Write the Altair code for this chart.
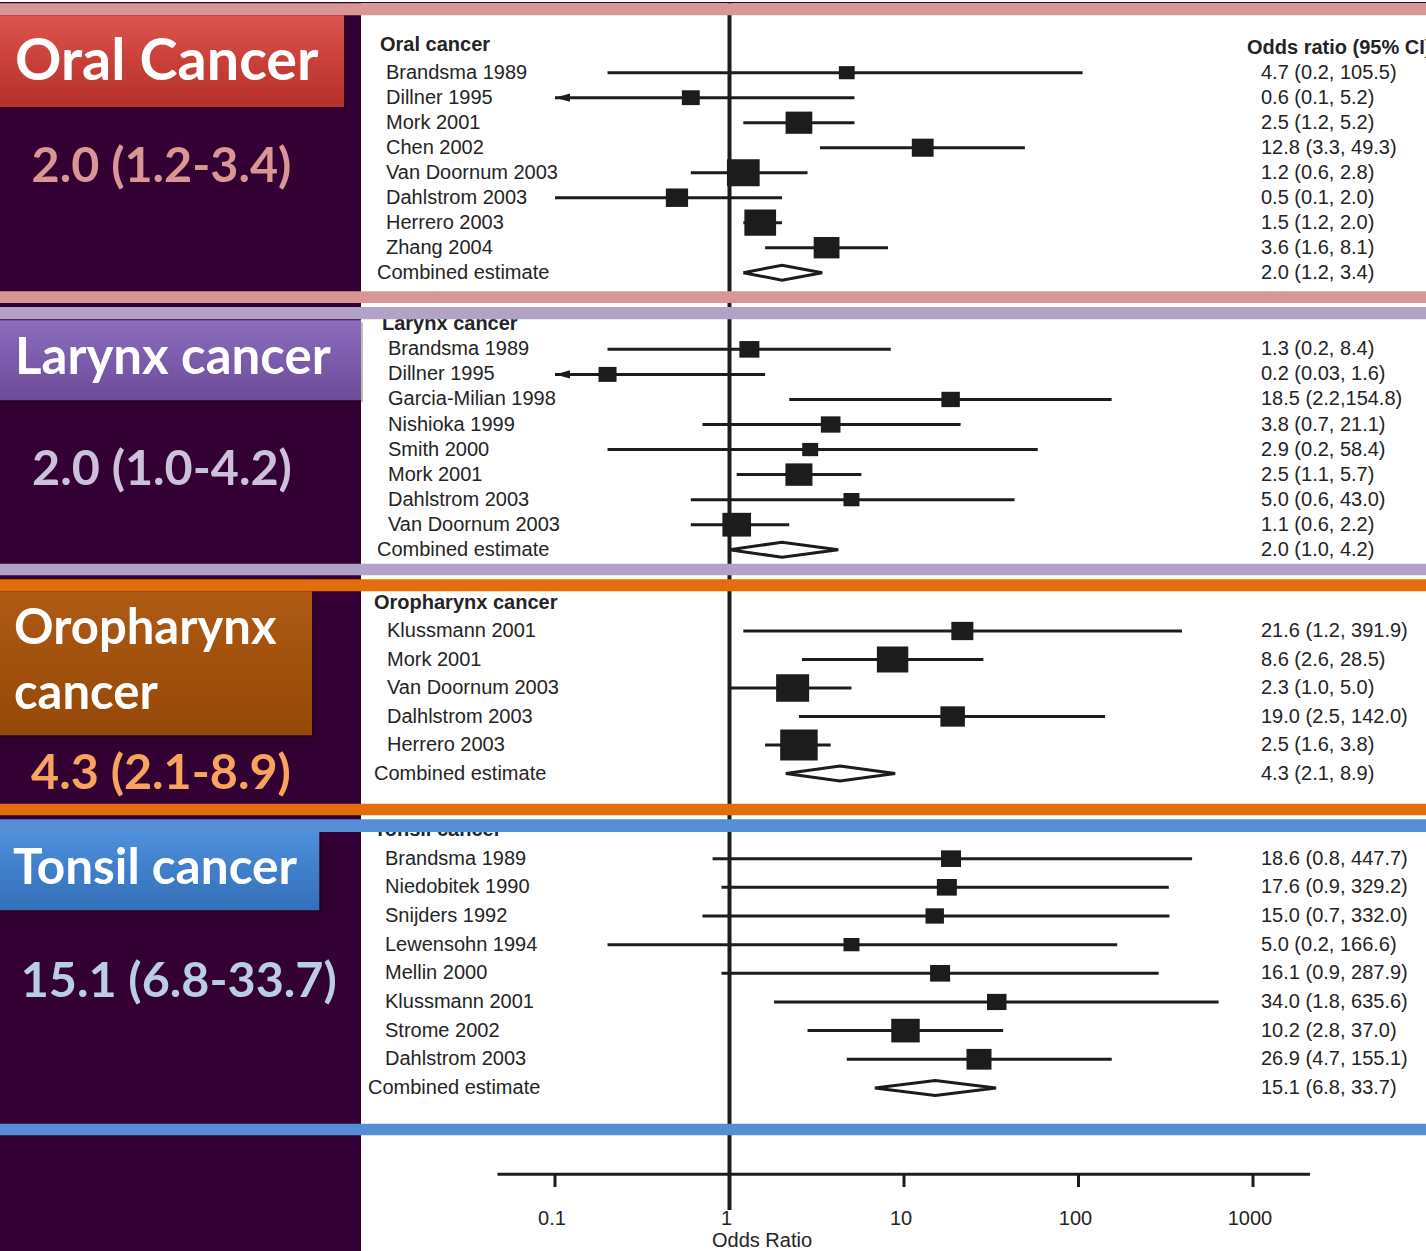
import re
import altair as alt
import pandas as pd

# ---------------------------------------------------------------- data
oral_studies = ["Brandsma 1989", "Dillner 1995", "Mork 2001", "Chen 2002",
                "Van Doornum 2003", "Dahlstrom 2003", "Herrero 2003", "Zhang 2004"]
oral_ci = ["4.7 (0.2, 105.5)", "0.6 (0.1, 5.2)", "2.5 (1.2, 5.2)", "12.8 (3.3, 49.3)",
           "1.2 (0.6, 2.8)", "0.5 (0.1, 2.0)", "1.5 (1.2, 2.0)", "3.6 (1.6, 8.1)"]
oral_weight = [5.0, 6.4, 14.3, 9.5, 21.4, 9.9, 20.1, 13.3]
oral_combined = "2.0 (1.2, 3.4)"
oral_arrows = ["Dillner 1995"]

larynx_studies = ["Brandsma 1989", "Dillner 1995", "Garcia-Milian 1998", "Nishioka 1999",
                  "Smith 2000", "Mork 2001", "Dahlstrom 2003", "Van Doornum 2003"]
larynx_ci = ["1.3 (0.2, 8.4)", "0.2 (0.03, 1.6)", "18.5 (2.2,154.8)", "3.8 (0.7, 21.1)",
             "2.9 (0.2, 58.4)", "2.5 (1.1, 5.7)", "5.0 (0.6, 43.0)", "1.1 (0.6, 2.2)"]
larynx_weight = [8.0, 6.5, 6.8, 7.7, 5.1, 14.6, 5.1, 16.4]
larynx_combined = "2.0 (1.0, 4.2)"
larynx_arrows = ["Dillner 1995"]

oro_studies = ["Klussmann 2001", "Mork 2001", "Van Doornum 2003", "Dalhlstrom 2003",
               "Herrero 2003"]
oro_ci = ["21.6 (1.2, 391.9)", "8.6 (2.6, 28.5)", "2.3 (1.0, 5.0)", "19.0 (2.5, 142.0)",
          "2.5 (1.6, 3.8)"]
oro_weight = [9.7, 19.7, 21.8, 12.0, 28.1]
oro_combined = "4.3 (2.1, 8.9)"
oro_arrows = []

tonsil_studies = ["Brandsma 1989", "Niedobitek 1990", "Snijders 1992", "Lewensohn 1994",
                  "Mellin 2000", "Klussmann 2001", "Strome 2002", "Dahlstrom 2003"]
tonsil_ci = ["18.6 (0.8, 447.7)", "17.6 (0.9, 329.2)", "15.0 (0.7, 332.0)",
             "5.0 (0.2, 166.6)", "16.1 (0.9, 287.9)", "34.0 (1.8, 635.6)",
             "10.2 (2.8, 37.0)", "26.9 (4.7, 155.1)"]
tonsil_weight = [8.0, 8.0, 6.8, 5.1, 8.0, 7.6, 16.2, 12.5]
tonsil_combined = "15.1 (6.8, 33.7)"
tonsil_arrows = []

section_headers = ["Oral cancer", "Larynx cancer", "Oropharynx cancer", "Tonsil cancer"]
box_titles = [["Oral Cancer"], ["Larynx cancer"], ["Oropharynx", "cancer"], ["Tonsil cancer"]]
tick_values = [0.1, 1, 10, 100, 1000]
tick_labels = ["0.1", "1", "10", "100", "1000"]
combined_label = "Combined estimate"
or_header = "Odds ratio (95% CI)"
axis_title = "Odds Ratio"

# ---------------------------------------------------------------- styling
W = 1426
INK = "#1c1c1c"
TXT = "#242424"
DARK = "#330033"
PINK, LAV, ORG, BLUE = "#d99694", "#b3a2c7", "#e46c0a", "#558ed5"
FONT = "Liberation Sans"
LFONT = "Lato"
AXIS_MIN = 0.1            # CIs running past this end in an arrow
DIAMOND_HALF = 7.5        # px
PX_ONE, PX_DECADE = 729.5, 174.5
XS = alt.Scale(type="log", nice=False,
               domain=[10 ** (-PX_ONE / PX_DECADE), 10 ** ((W - PX_ONE) / PX_DECADE)])
BOX = "M-1,-0.83L1,-0.83L1,0.83L-1,0.83Z"
ARROW = "M-1,0L1,-0.55L1,0.55Z"
ONE = pd.DataFrame({"k": [0]})


def nums(s):
    return re.findall(r"\d+\.?\d*", s)


def rect(x1, x2, y1, y2, fill, **kw):
    return alt.Chart(ONE).mark_rect(fill=fill, **kw).encode(
        x=alt.value(x1), x2=alt.value(x2), y=alt.value(y1), y2=alt.value(y2))


def gradient(colors):
    n = len(colors) - 1
    return alt.Gradient(gradient="linear", x1=0, x2=0, y1=0, y2=1,
                        stops=[alt.GradientStop(color=c, offset=i / n)
                               for i, c in enumerate(colors)])


def ref_line(y1, y2):
    return alt.Chart(pd.DataFrame({"or": [1.0]})).mark_rule(
        strokeWidth=4, color=INK).encode(
        x=alt.X("or:Q", scale=XS, axis=None), y=alt.value(y1), y2=alt.value(y2))


def panel(p):
    H, y0, step = p["height"], p["y0"], p["step"]
    ys = alt.Scale(domain=[-y0 / step, (H - y0) / step], reverse=True, nice=False, zero=False)
    n = len(p["studies"])
    vals = [[float(v) for v in nums(s)] for s in p["ci"]]
    df = pd.DataFrame({
        "study": p["studies"], "row": list(range(1, n + 1)),
        "or": [v[0] for v in vals], "lo": [v[1] for v in vals], "hi": [v[2] for v in vals],
        "w": p["weight"], "ci": p["ci"]})
    df["lo_draw"] = df["lo"].clip(lower=AXIS_MIN)
    arrows = df[df["study"].isin(p["arrows"])]

    crow = n + 1
    c = [float(v) for v in nums(p["combined"])]
    h = DIAMOND_HALF / step
    dia = pd.DataFrame({"x": [c[1], c[0], c[2], c[0], c[1]],
                        "y": [crow, crow - h, crow, crow + h, crow], "k": list(range(5))})

    X = lambda f: alt.X(f, scale=XS, axis=None)
    Y = lambda f: alt.Y(f, scale=ys, axis=None)
    txt = dict(font=FONT, fontSize=20, color=TXT, baseline="middle", align="left")

    layers = [rect(0, 361, 0, H, DARK), ref_line(0, H)]
    layers.append(alt.Chart(df).mark_rule(strokeWidth=3, color=INK).encode(
        x=X("lo_draw:Q"), x2="hi:Q", y=Y("row:Q")))
    layers.append(alt.Chart(df).mark_point(shape=BOX, filled=True, opacity=1, color=INK).encode(
        x=X("or:Q"), y=Y("row:Q"),
        size=alt.Size("w:Q", scale=alt.Scale(domain=[0, 30], range=[0, 1500]), legend=None)))
    if len(arrows):
        layers.append(alt.Chart(arrows).mark_point(
            shape=ARROW, filled=True, opacity=1, color=INK, size=225, xOffset=7.5).encode(
            x=X("lo_draw:Q"), y=Y("row:Q")))
    layers.append(alt.Chart(dia).mark_line(strokeWidth=3, color=INK, strokeJoin="miter").encode(
        x=X("x:Q"), y=Y("y:Q"), order="k:Q"))

    # text columns
    layers.append(alt.Chart(df).mark_text(**txt).encode(
        x=alt.value(p["label_x"]), y=Y("row:Q"), text="study:N"))
    comb = pd.DataFrame({"row": [crow], "t": [combined_label], "ci": [p["combined"]]})
    layers.append(alt.Chart(comb).mark_text(**txt).encode(
        x=alt.value(p["comb_x"]), y=Y("row:Q"), text="t:N"))
    layers.append(alt.Chart(pd.concat([df[["row", "ci"]], comb[["row", "ci"]]])).mark_text(
        **txt).encode(x=alt.value(1261), y=Y("row:Q"), text="ci:N"))
    hd = pd.DataFrame({"row": [0], "t": [p["header"]]})
    layers.append(alt.Chart(hd).mark_text(fontWeight="bold", dy=p.get("header_dy", 0), **txt).encode(
        x=alt.value(p["header_x"]), y=Y("row:Q"), text="t:N"))
    if p.get("or_header"):
        oh = pd.DataFrame({"row": [0], "t": [or_header]})
        layers.append(alt.Chart(oh).mark_text(fontWeight="bold", clip=True, **txt).encode(
            x=alt.value(1247), y=Y("row:Q"), text="t:N"))

    # coloured separators
    for (b1, b2, col) in p["bands"]:
        layers.append(rect(0, W, b1, b2, col))

    # side label box
    bx = p["box"]
    layers.append(rect(0, bx["x2"] + 2, bx["y1"] + 2, bx["y2"] + 2, "#000000", opacity=0.25))
    layers.append(rect(0, bx["x2"], bx["y1"], bx["y2"], gradient(bx["stops"])))
    for line, base in zip(p["title"], p["title_y"]):
        layers.append(alt.Chart(pd.DataFrame({"t": [line]})).mark_text(
            font=LFONT, fontWeight="bold", fontSize=p["title_size"], color="white",
            align="left", baseline="alphabetic").encode(
            x=alt.value(p["title_x"]), y=alt.value(base), text="t:N"))
    t = nums(p["combined"])
    summary = f"{t[0]} ({t[1]}-{t[2]})"
    layers.append(alt.Chart(pd.DataFrame({"t": [summary]})).mark_text(
        font=LFONT, fontWeight="bold", fontSize=48.5, color=p["summary_color"],
        align="center", baseline="alphabetic").encode(
        x=alt.value(p["summary_x"]), y=alt.value(p["summary_y"]), text="t:N"))

    return alt.layer(*layers).properties(width=W, height=H)


panels_spec = [
    dict(studies=oral_studies, ci=oral_ci, weight=oral_weight, combined=oral_combined,
         arrows=oral_arrows, header=section_headers[0], title=box_titles[0],
         height=303, y0=45.7, step=25.0, label_x=386, header_x=380, comb_x=377, header_dy=-3,
         or_header=True,
         bands=[(0, 1.3, DARK), (1.3, 13.3, PINK), (289.3, 301, PINK)],
         box=dict(y1=13.3, y2=105, x2=344, stops=["#dc554e", "#c94039", "#b4302a"]),
         title_y=[78.3], title_x=15, title_size=57.5,
         summary_x=161.5, summary_y=180, summary_color="#d99694"),
    dict(studies=larynx_studies, ci=larynx_ci, weight=larynx_weight, combined=larynx_combined,
         arrows=larynx_arrows, header=section_headers[1], title=box_titles[1],
         height=272, y0=19.3, step=25.05, label_x=388, header_x=382, comb_x=377,
         bands=[(2, 14.3, LAV), (258.7, 270.3, LAV)],
         box=dict(y1=15.3, y2=95.3, x2=361, stops=["#8d6ebe", "#7b5bab", "#6c4c99"]),
         title_y=[68.7], title_x=15, title_size=51,
         summary_x=162, summary_y=180, summary_color="#ccc1da"),
    dict(studies=oro_studies, ci=oro_ci, weight=oro_weight, combined=oro_combined,
         arrows=oro_arrows, header=section_headers[2], title=box_titles[2],
         height=240, y0=25.5, step=28.5, label_x=387, header_x=374, comb_x=374,
         bands=[(2.3, 14.3, ORG), (226.7, 238.3, ORG)],
         box=dict(y1=14.3, y2=158.3, x2=312, stops=["#ae5b15", "#a1510d", "#964808"]),
         title_y=[66.7, 131.7], title_x=14, title_size=49,
         summary_x=161, summary_y=211.7, summary_color="#f8a45e"),
    dict(studies=tonsil_studies, ci=tonsil_ci, weight=tonsil_weight, combined=tonsil_combined,
         arrows=tonsil_arrows, header=section_headers[3], title=box_titles[3],
         height=320, y0=13, step=28.66, label_x=385, header_x=374, comb_x=368,
         bands=[(2.3, 15, BLUE), (306.7, 318.3, BLUE)],
         box=dict(y1=15, y2=93.3, x2=319.3, stops=["#4f90dc", "#3f7ec9", "#3470b8"]),
         title_y=[66.7], title_x=13, title_size=49.5,
         summary_x=178.7, summary_y=180, summary_color="#b9cde5"),
]

panels = [panel(p) for p in panels_spec]

# odds-ratio axis
ticks = pd.DataFrame({"v": tick_values, "t": tick_labels})
axis_panel = alt.layer(
    rect(0, 361, 0, 116, DARK),
    ref_line(0, 73),
    alt.Chart(ONE).mark_rule(strokeWidth=3, color=INK).encode(
        x=alt.value(497.5), x2=alt.value(1310), y=alt.value(37.3)),
    alt.Chart(ticks).mark_rule(strokeWidth=3, color=INK).encode(
        x=alt.X("v:Q", scale=XS, axis=None), y=alt.value(37.3), y2=alt.value(50)),
    alt.Chart(ticks).mark_text(font=FONT, fontSize=20, color=TXT, dx=-3, baseline="middle").encode(
        x=alt.X("v:Q", scale=XS, axis=None), y=alt.value(82), text="t:N"),
    alt.Chart(pd.DataFrame({"t": [axis_title]})).mark_text(
        font=FONT, fontSize=20, color=TXT, baseline="middle").encode(
        x=alt.value(762), y=alt.value(104), text="t:N"),
).properties(width=W, height=116)

chart = alt.vconcat(*panels, axis_panel, spacing=0, bounds="flush").resolve_scale(
    y="independent").properties(padding=0, background="white").configure_view(stroke=None)

chart.save("out.html", embed_options={"renderer": "svg", "actions": False})
